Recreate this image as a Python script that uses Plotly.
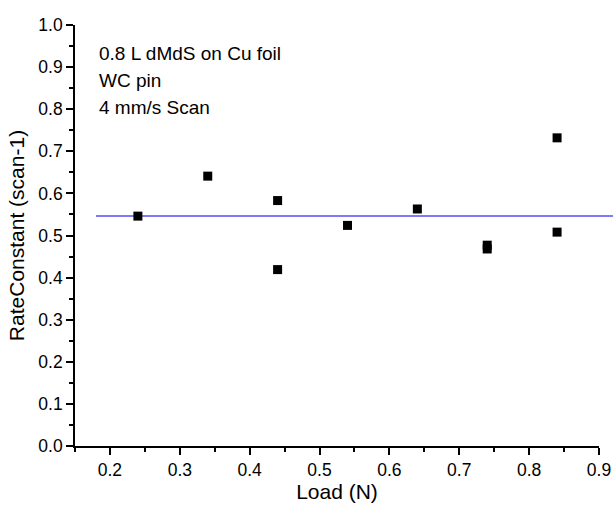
import plotly.graph_objects as go

# Data
load_n = [0.24, 0.34, 0.44, 0.44, 0.54, 0.64, 0.74, 0.74, 0.84, 0.84]
rate_constant = [0.546, 0.641, 0.583, 0.419, 0.524, 0.563, 0.477, 0.468, 0.732, 0.508]
mean_line_x = [0.18, 0.92]
mean_value = sum(rate_constant) / len(rate_constant)
x_range = [0.15, 0.9]
y_range = [0.0, 1.0]
note_lines = ["0.8 L dMdS on Cu foil", "WC pin", "4 mm/s Scan"]

FONT = "Liberation Sans, Arial, Helvetica, sans-serif"

fig = go.Figure()
fig.add_trace(go.Scatter(
    x=load_n, y=rate_constant, mode="markers",
    marker=dict(symbol="square", size=9, color="black", line=dict(width=0)),
    showlegend=False, cliponaxis=False,
))

def to_paper_x(v):
    return (v - x_range[0]) / (x_range[1] - x_range[0])

fig.add_shape(type="line", xref="paper", yref="y",
              x0=to_paper_x(mean_line_x[0]), x1=to_paper_x(mean_line_x[1]),
              y0=mean_value, y1=mean_value,
              line=dict(color="#5050f5", width=1.5), layer="below")

plot_top, plot_h = 25, 421
for i, txt in enumerate(note_lines):
    py = 53 + 27.3 * i
    fig.add_annotation(text=txt, xref="paper", yref="paper",
                       x=(97 - 75) / 524, y=(plot_top + plot_h - py) / plot_h,
                       xanchor="left", yanchor="middle", showarrow=False,
                       font=dict(family=FONT, size=19, color="black"))

axis_common = dict(
    showline=True, linecolor="black", linewidth=1.6,
    ticks="outside", ticklen=7, tickwidth=1.6, tickcolor="black",
    showgrid=False, zeroline=False, mirror=False, automargin=False,
    tickfont=dict(family=FONT, size=17.5, color="black"),
    title_font=dict(family=FONT, size=21, color="black"),
)

fig.update_xaxes(range=x_range, dtick=0.1, tick0=0.2, tickformat=".1f",
                 minor=dict(ticks="outside", ticklen=4, dtick=0.05, tick0=0.15,
                            tickcolor="black", tickwidth=1.6),
                 title=dict(text="Load (N)", standoff=4), **axis_common)
fig.update_yaxes(range=y_range, dtick=0.1, tick0=0.0, tickformat=".1f",
                 minor=dict(ticks="outside", ticklen=4, dtick=0.05, tick0=0.0,
                            tickcolor="black", tickwidth=1.6),
                 title=dict(text="RateConstant (scan-1)", standoff=8), **axis_common)

fig.update_layout(
    width=614, height=510,
    margin=dict(l=75, r=15, t=25, b=64),
    plot_bgcolor="white", paper_bgcolor="white",
    font=dict(family=FONT, color="black"),
)

fig.write_html("out.html", config={"displayModeBar": False},
               post_script="document.body.style.margin='0';document.body.style.overflow='hidden';")
